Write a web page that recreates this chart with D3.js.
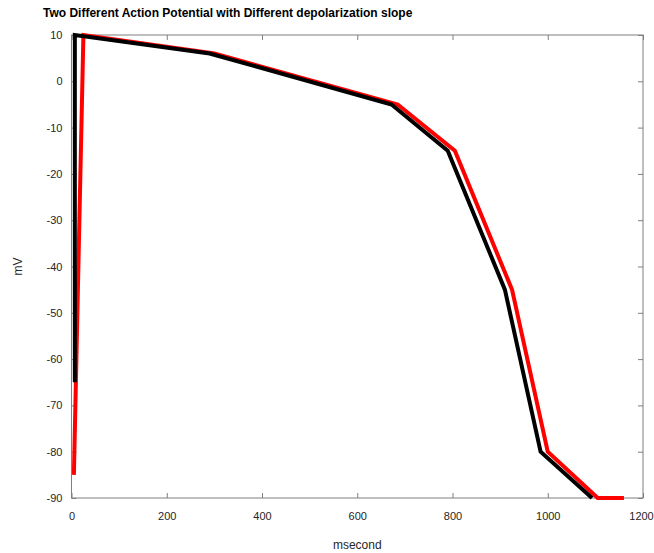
<!DOCTYPE html>
<html>
<head>
<meta charset="utf-8">
<script src="https://cdn.jsdelivr.net/npm/d3@7"></script>
<style>
  body { margin: 0; background: #fff; }
  text { font-family: "Liberation Sans", Arial, sans-serif; }
</style>
</head>
<body>
<div id="chart"></div>
<script>
// slow depolarization (red) and fast depolarization (black)
let redTime = [5, 25, 300, 685, 805, 925, 1000, 1105, 1160];
let redMv = [-85, 10, 6, -5, -15, -45, -80, -90, -90];
let blackTime = [7, 7, 290, 672, 790, 910, 985, 1093];
let blackMv = [-65, 10, 6, -5, -15, -45, -80, -90];
let xTicks = [0, 200, 400, 600, 800, 1000, 1200];
let yTicks = [10, 0, -10, -20, -30, -40, -50, -60, -70, -80, -90];

let width = 654, height = 553;
let margins = {left: 71.5, right: 11, top: 35, bottom: 55};

let svg = d3.select("#chart").append("svg").attr("width", width).attr("height", height);

let x = d3.scaleLinear().domain([0, 1200]).range([margins.left, width - margins.right]);
let y = d3.scaleLinear().domain([-90, 10]).range([height - margins.bottom, margins.top]);

let x0 = x(0), x1 = x(1200), y0 = y(-90), y1 = y(10);
let axisColor = "#7f7f7f";
let fmt = function(d) { return String(d); };

// frame
svg.append("rect")
  .attr("x", x0).attr("y", y1)
  .attr("width", x1 - x0).attr("height", y0 - y1)
  .attr("fill", "none").attr("stroke", axisColor).attr("stroke-width", 1);

// ticks, inward, on all four sides
let tickLen = 5;
let xAxisG = svg.append("g").attr("transform", "translate(0," + y0 + ")")
  .call(d3.axisBottom(x).tickValues(xTicks).tickSizeInner(-tickLen).tickSizeOuter(0).tickPadding(14).tickFormat(fmt))
  .call(g => g.select(".domain").remove());
svg.append("g").attr("transform", "translate(0," + y1 + ")")
  .call(d3.axisTop(x).tickValues(xTicks).tickSizeInner(-tickLen).tickSizeOuter(0).tickFormat(""))
  .call(g => g.select(".domain").remove());
svg.append("g").attr("transform", "translate(" + x0 + ",0)")
  .call(d3.axisLeft(y).tickValues(yTicks).tickSizeInner(-tickLen).tickSizeOuter(0).tickPadding(9).tickFormat(fmt))
  .call(g => g.select(".domain").remove());
svg.append("g").attr("transform", "translate(" + x1 + ",0)")
  .call(d3.axisRight(y).tickValues(yTicks).tickSizeInner(-tickLen).tickSizeOuter(0).tickFormat(""))
  .call(g => g.select(".domain").remove());

svg.selectAll(".tick line").attr("stroke", axisColor);
svg.selectAll(".tick text")
  .attr("fill", "#262626")
  .style("font-size", "11px")
  .style("font-family", "'Liberation Sans', Arial, sans-serif");

// keep the last x label inside the window
xAxisG.selectAll(".tick text").filter(function(d) { return d === 1200; }).attr("dx", -2);

let line = d3.line()
  .x(function(d) { return x(d[0]); })
  .y(function(d) { return y(d[1]); });

let redData = d3.zip(redTime, redMv);
let blackData = d3.zip(blackTime, blackMv);

svg.append("path")
  .attr("d", line(redData))
  .attr("fill", "none").attr("stroke", "#ff0000").attr("stroke-width", 4)
  .attr("stroke-linejoin", "miter");

svg.append("path")
  .attr("d", line(blackData))
  .attr("fill", "none").attr("stroke", "#000000").attr("stroke-width", 4)
  .attr("stroke-linejoin", "miter");

// labels
svg.append("text")
  .attr("x", (x0 + x1) / 2).attr("y", 549)
  .attr("text-anchor", "middle")
  .style("font-size", "12px").attr("fill", "#262626")
  .text("msecond");

svg.append("text")
  .attr("transform", "translate(22," + ((y0 + y1) / 2) + ") rotate(-90)")
  .attr("text-anchor", "middle")
  .style("font-size", "12px").attr("fill", "#262626")
  .text("mV");

svg.append("text")
  .attr("x", 43).attr("y", 17)
  .style("font-size", "12px").style("font-weight", "bold")
  .attr("fill", "#000")
  .text("Two Different Action Potential with Different depolarization slope");
</script>
</body>
</html>
